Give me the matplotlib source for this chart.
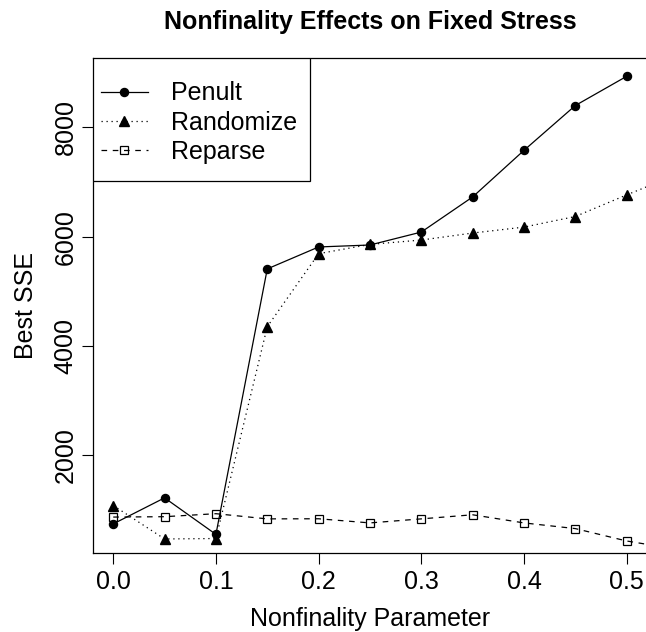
"""Nonfinality effects on fixed stress: best SSE by nonfinality parameter."""

import matplotlib

matplotlib.use("Agg")
import matplotlib.pyplot as plt
from matplotlib.patches import Rectangle

plt.rcParams["font.family"] = ["Liberation Sans", "DejaVu Sans"]
plt.rcParams["font.size"] = 18

# values
nonfinality = [0.0, 0.05, 0.10, 0.15, 0.20, 0.25, 0.30, 0.35, 0.40, 0.45, 0.50]
nonfinality_ext = nonfinality + [0.55]
penult = [738, 1215, 546, 5409, 5811, 5847, 6084, 6727, 7581, 8402, 8937]
randomize = [1075, 462, 470, 4350, 5688, 5858, 5938, 6066, 6175, 6369, 6765, 7145]
reparse = [863, 870, 925, 830, 832, 756, 830, 905, 756, 652, 425, 270]

x_ticks = [0.0, 0.1, 0.2, 0.3, 0.4, 0.5]
y_ticks = [2000, 4000, 6000, 8000]


def r_range(values, frac=0.04):
    """Mimic R's default 4% axis extension."""
    lo, hi = min(values), max(values)
    ext = (hi - lo) * frac
    return lo - ext, hi + ext


fig = plt.figure(figsize=(6.46, 6.32), dpi=100)
ax = fig.add_axes([92.7 / 646, 79.3 / 632, 554.5 / 646, 494.7 / 632])

ax.plot(nonfinality, penult, color="black", lw=0.9, marker="o", ms=5.8,
        label="Penult")
ax.plot(nonfinality_ext, randomize, color="black", lw=0.9, ls=(0, (1, 3)),
        marker="^", ms=6.8, label="Randomize")
ax.plot(nonfinality_ext, reparse, color="black", lw=0.9, ls=(0, (4.5, 4.5)),
        marker="s", ms=5.6, mfc="none", mec="black", mew=0.9, label="Reparse")

ax.set_xlim(r_range(nonfinality))
ax.set_ylim(r_range(penult))
ax.set_xticks(x_ticks)
ax.set_xticklabels([f"{t:.1f}" for t in x_ticks])
ax.set_yticks(y_ticks)
ax.set_yticklabels([str(t) for t in y_ticks], rotation=90, va="center")
ax.tick_params(axis="both", length=7.6, width=0.8, color="black",
               labelsize=18)
ax.tick_params(axis="x", pad=4.5)
ax.tick_params(axis="y", pad=3.4)
for spine in ax.spines.values():
    spine.set_linewidth(0.9)

ax.set_title("Nonfinality Effects on Fixed Stress", fontsize=18,
             fontweight="bold", pad=21)
ax.set_xlabel("Nonfinality Parameter", fontsize=18)
ax.set_ylabel("Best SSE", fontsize=18)
ax.xaxis.set_label_coords(0.5, -(607 - 552.7) / 494.7)
ax.yaxis.set_label_coords((38 - 92.7) / 554.5, 0.5)

# R-style legend box: tight on the sides, roomier above and below
ax.add_patch(Rectangle((0, 1 - 123 / 494.7), 217 / 554.5, 123 / 494.7,
                       transform=ax.transAxes, fill=True, facecolor="white",
                       edgecolor="black", lw=0.9, zorder=4))
leg = ax.legend(loc="upper left", bbox_to_anchor=(8 / 554.5, 1 - 23.5 / 494.7),
                borderaxespad=0, borderpad=0, frameon=False,
                handlelength=1.9, handletextpad=0.92, labelspacing=0.2,
                fontsize=18)
leg.set_zorder(5)

fig.savefig("out.png", dpi=100)
